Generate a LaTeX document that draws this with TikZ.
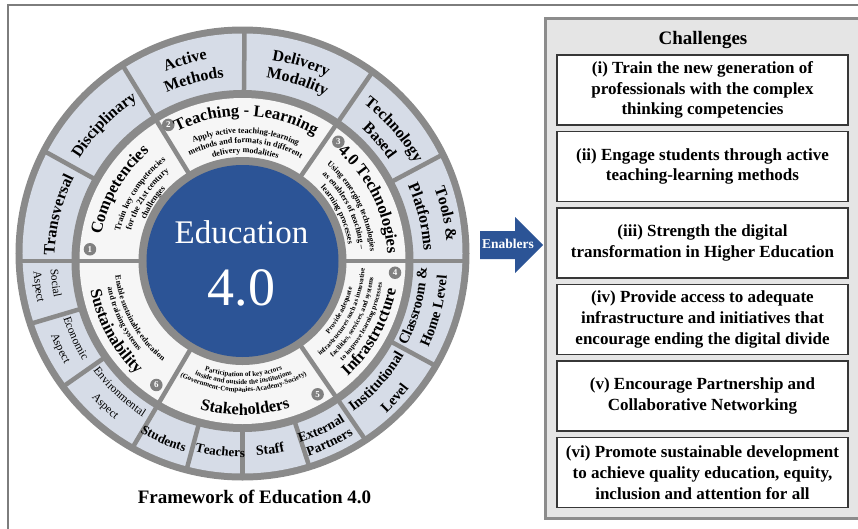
\documentclass[tikz,border=0pt]{standalone}
\usepackage{fontspec}
\setmainfont{Liberation Serif}[BoldFont={Liberation Serif Bold}]
\usetikzlibrary{decorations.text}
\definecolor{ringgray}{RGB}{138,138,138}
\definecolor{cellblue}{RGB}{214,220,231}
\definecolor{ringwhite}{RGB}{246,246,246}
\definecolor{edublue}{RGB}{44,84,150}
\definecolor{numgray}{RGB}{128,128,128}
\definecolor{panelgray}{RGB}{229,229,229}
\definecolor{panelborder}{RGB}{140,140,140}
\definecolor{framegray}{RGB}{125,125,125}
\definecolor{boxdraw}{RGB}{55,55,55}
\newcommand\bsz[1]{\fontsize{#1}{#1}\selectfont\bfseries}
\newcommand\rsz[1]{\fontsize{#1}{#1}\selectfont}
\newcommand\uparc[4]{\path[decorate,decoration={text along path,text align=center,text={|#3|#4}}]
  (#1+45:#2) arc[start angle=#1+45,end angle=#1-45,radius=#2];}
\newcommand\dnarc[4]{\path[decorate,decoration={text along path,text align=center,text={|#3|#4}}]
  (#1-45:#2) arc[start angle=#1-45,end angle=#1+45,radius=#2];}
\tikzset{
  numdot/.style={circle,fill=numgray,text=white,inner sep=0pt,minimum size=12.5pt,font=\bsz{9}},
  chbox/.style={draw=boxdraw,line width=1.2pt,fill=white,minimum width=291pt,minimum height=70pt,
    inner sep=0pt,align=center,font=\fontsize{17}{20.8}\selectfont\bfseries},
  divider/.style={ringgray,line width=4.5pt}
}
\begin{document}
\begin{tikzpicture}[x=1pt,y=1pt]
\useasboundingbox (-242.5,-267) rectangle (615.5,261);
\draw[framegray,line width=2pt] (-234.5,-275) -- (-234.5,256) -- (625,256);

% wheel
\fill[ringgray] (0,7.5) circle[radius=227];
\fill[cellblue] (0,7.5) circle[radius=220];
\begin{scope}
  \clip (0,7.5) circle[radius=224];
  \foreach \a in {180,151,121.5,89.5,55.5,28,0,-28.5,-55.5,-72,-90,-105,-120.5,-145,-163.5}
    \draw[divider] (\a:160) -- (\a:240);
\end{scope}
\fill[ringgray] (0,0) circle[radius=171];
\fill[ringwhite] (0,0) circle[radius=163];
\foreach \a in {180,121.5,55.5,0,-55.5,-120.5}
  \draw[divider] (\a:100) -- (\a:166);
\fill[ringgray] (0,0) circle[radius=104];
\fill[edublue] (0,0) circle[radius=96];
\node[text=white,font=\rsz{33}] (edu) at (-1,29) {Education};
\node[text=white,font=\rsz{54}] (ver) at (-1,-26.5) {4.0};

\node[numdot] (n1) at (175.6:153) {1};
\node[numdot] (n2) at (118.6:155) {2};
\node[numdot] (n3) at (51.2:153) {3};
\node[numdot] (n4) at (-4.4:153) {4};
\node[numdot] (n5) at (-60.6:153) {5};
\node[numdot] (n6) at (-124.8:151) {6};

% inner sectors
\uparc{150}{143.5}{\bsz{16.5}}{Competencies}
\uparc{147}{126}{\bsz{8.5}}{Train key competencies}
\uparc{147}{115.5}{\bsz{8.5}}{for the 21st century}
\uparc{147}{105.5}{\bsz{8.5}}{challenges}
\uparc{88.5}{145}{\bsz{16.5}}{Teaching - Learning}
\uparc{88.5}{128}{\bsz{8.2}}{Apply active teaching-learning}
\uparc{88.5}{118}{\bsz{8.2}}{methods and formats in different}
\uparc{88.5}{108}{\bsz{8.2}}{delivery modalities}
\uparc{26}{145}{\bsz{16.5}}{4.0 Technologies}
\uparc{26.5}{128}{\bsz{8.2}}{Using emerging technologies}
\uparc{26.5}{117.5}{\bsz{8.2}}{as enablers of teaching –}
\uparc{26}{107}{\bsz{8.2}}{learning processes}
\dnarc{-29}{156}{\bsz{16.5}}{Infrastructure}
\dnarc{-27}{113}{\bsz{7}}{Provide adequate}
\dnarc{-27}{122.5}{\bsz{7}}{infrastructures such as innovative}
\dnarc{-27}{132}{\bsz{7}}{facilities, services, and systems}
\dnarc{-27}{141.5}{\bsz{7}}{to improve learning processes}
\dnarc{-89}{154}{\bsz{16.5}}{Stakeholders}
\dnarc{-89.5}{116}{\bsz{7}}{Participation of key actors}
\dnarc{-89.5}{123.5}{\bsz{7}}{inside and outside the institutions}
\dnarc{-89.5}{131}{\bsz{7}}{(Government-Companies-Academy-Society)}
\dnarc{-151}{155}{\bsz{16.5}}{Sustainability}
\dnarc{-151}{128}{\bsz{8}}{Enable sustainable education}
\dnarc{-154}{137.5}{\bsz{8}}{and training systems}

% outer cells
\uparc{166}{188}{\bsz{16}}{Transversal}
\uparc{135.5}{192.5}{\bsz{16}}{Disciplinary}
\uparc{106}{204.5}{\bsz{16}}{Active}
\uparc{105}{184.3}{\bsz{16}}{Methods}
\uparc{73.5}{203}{\bsz{16}}{Delivery}
\uparc{73}{184.5}{\bsz{16}}{Modality}
\uparc{41}{198.5}{\bsz{16}}{Technology}
\uparc{41.3}{178}{\bsz{16}}{Based}
\uparc{13.1}{205}{\bsz{16}}{Tools {\&}}
\uparc{13.8}{181.5}{\bsz{16}}{Platforms}
\dnarc{-14.7}{184.5}{\bsz{14.5}}{Classroom {\&}}
\dnarc{-14.6}{205}{\bsz{14.5}}{Home Level}
\dnarc{-42}{187}{\bsz{14.5}}{Institutional}
\dnarc{-42}{209.5}{\bsz{14.5}}{Level}
\dnarc{-64.9}{190.5}{\bsz{13.5}}{External}
\dnarc{-64.4}{206}{\bsz{13.5}}{Partners}
\dnarc{-81.7}{195}{\bsz{14}}{Staff}
\dnarc{-96.7}{196}{\bsz{13}}{Teachers}
\dnarc{-113.9}{199.5}{\bsz{13}}{Students}
\dnarc{-133.2}{185}{\rsz{11.5}}{Environmental}
\dnarc{-133.3}{203.5}{\rsz{11.5}}{Aspect}
\dnarc{-155.2}{188}{\rsz{11.5}}{Economic}
\dnarc{-154.4}{205.5}{\rsz{11.5}}{Aspect}
\dnarc{-173.2}{192}{\rsz{11.5}}{Social}
\dnarc{-172.8}{209}{\rsz{11.5}}{Aspect}

\node[font=\bsz{19}] (caption) at (12,-236) {Framework of Education 4.0};

% enablers arrow
\fill[edublue] (237.5,2) -- (272.5,2) -- (272.5,-12) -- (300.5,16) -- (272.5,44)
  -- (272.5,30) -- (237.5,30) -- cycle;
\node[text=white,font=\bsz{13.5}] (enablers) at (265.5,17) {Enablers};

% challenges
\filldraw[fill=panelgray,draw=panelborder,line width=3pt] (302.5,-257) rectangle (620,243);
\node[font=\bsz{19}] (chtitle) at (460.5,221) {Challenges};
\node[chbox] (c1) at (460,171) {(i) Train the new generation of\\professionals with the complex\\thinking competencies};
\node[chbox] (c2) at (460,94.5) {(ii) Engage students through active\\teaching-learning methods};
\node[chbox] (c3) at (460,18) {(iii) Strength the digital\\transformation in Higher Education};
\node[chbox] (c4) at (460,-58.5) {(iv) Provide access to adequate\\infrastructure and initiatives that\\encourage ending the digital divide};
\node[chbox] (c5) at (460,-135) {(v) Encourage Partnership and\\Collaborative Networking};
\node[chbox] (c6) at (460,-211.5) {(vi) Promote sustainable development\\to achieve quality education, equity,\\inclusion and attention for all};
\end{tikzpicture}
\end{document}
